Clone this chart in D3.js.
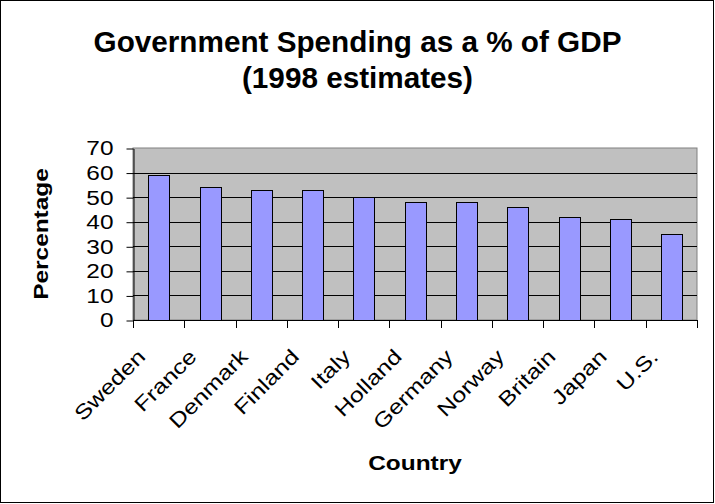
<!DOCTYPE html>
<html>
<head>
<meta charset="utf-8">
<script src="https://cdn.jsdelivr.net/npm/d3@7"></script>
<style>
  body { margin: 0; background: #fff; }
  text { font-family: "Liberation Sans", Arial, sans-serif; fill: #000; }
</style>
</head>
<body>
<svg id="chart"></svg>
<script>
// data
const countries = ["Sweden", "France", "Denmark", "Finland", "Italy", "Holland", "Germany", "Norway", "Britain", "Japan", "U.S."];
const spending = [59, 54, 53, 53, 50, 48, 48, 46, 42, 41, 35];
const yTicks = [0, 10, 20, 30, 40, 50, 60, 70];
const titleLines = ["Government Spending as a % of GDP", "(1998 estimates)"];

const width = 715, height = 504;
const plot = { left: 133, right: 697, top: 148, bottom: 320 };
const stretch = 1.22; // the source renders its labels wide

const svg = d3.select("#chart").attr("width", width).attr("height", height);

// outer frame
svg.append("rect")
    .attr("x", 0.5).attr("y", 0.5)
    .attr("width", width - 2).attr("height", height - 2)
    .attr("fill", "#fff").attr("stroke", "#000");

const x = d3.scaleBand()
    .domain(countries)
    .range([plot.left, plot.right])
    .paddingInner(0.6)
    .paddingOuter(0.3);
const xEdge = d3.scaleBand().domain(countries).range([plot.left, plot.right]);
const y = d3.scaleLinear().domain([0, 70]).range([plot.bottom, plot.top]);

function widen(sel, k) {
    sel.each(function() {
        const w = this.getComputedTextLength();
        d3.select(this).attr("textLength", w * k).attr("lengthAdjust", "spacingAndGlyphs");
    });
}

// plot area
svg.append("rect")
    .attr("x", plot.left).attr("y", plot.top)
    .attr("width", plot.right - plot.left).attr("height", plot.bottom - plot.top)
    .attr("fill", "#c0c0c0").attr("stroke", "#808080");

// gridlines
svg.append("g")
    .selectAll("line")
    .data(yTicks.filter(d => d > 0 && d < 70))
    .join("line")
        .attr("x1", plot.left).attr("x2", plot.right)
        .attr("y1", d => Math.round(y(d)) + 0.5).attr("y2", d => Math.round(y(d)) + 0.5)
        .attr("stroke", "#000");

// bars
svg.append("g")
    .selectAll("rect")
    .data(spending)
    .join("rect")
        .attr("x", (d, i) => Math.round(x(countries[i])) + 0.5)
        .attr("y", d => Math.round(y(d)) + 0.5)
        .attr("width", Math.round(x.bandwidth()))
        .attr("height", d => Math.round(y(0)) - Math.round(y(d)))
        .attr("fill", "#9999ff")
        .attr("stroke", "#000");

// y axis
const yAxis = svg.append("g")
    .attr("transform", "translate(" + (plot.left + 0.5) + ",0.5)")
    .call(d3.axisLeft(y).tickValues(yTicks).tickSize(7).tickSizeOuter(0).tickPadding(13));
yAxis.selectAll("path, line").attr("stroke", "#000");
yAxis.selectAll("text").attr("font-size", 20).attr("font-family", null).call(widen, stretch);

// x axis line and ticks at category edges
const xAxis = svg.append("g");
xAxis.append("line")
    .attr("x1", plot.left).attr("x2", plot.right)
    .attr("y1", plot.bottom + 0.5).attr("y2", plot.bottom + 0.5)
    .attr("stroke", "#000");
xAxis.selectAll("line.tick")
    .data(countries.map(c => xEdge(c)).concat([plot.right]))
    .join("line")
        .attr("class", "tick")
        .attr("x1", d => Math.round(d) + 0.5).attr("x2", d => Math.round(d) + 0.5)
        .attr("y1", plot.bottom).attr("y2", plot.bottom + 8)
        .attr("stroke", "#000");

// category labels, rotated
xAxis.selectAll("text")
    .data(countries)
    .join("text")
        .attr("transform", d => "translate(" + (x(d) + x.bandwidth() / 2 - 12) + "," + (plot.bottom + 38) + ") rotate(-45)")
        .attr("text-anchor", "end")
        .attr("font-size", 20.5)
        .text(d => d)
        .call(widen, stretch);

// title
svg.append("text")
    .attr("x", width / 2)
    .attr("y", 52)
    .attr("text-anchor", "middle")
    .attr("font-size", 29.7)
    .attr("font-weight", "bold")
    .selectAll("tspan")
    .data(titleLines)
    .join("tspan")
        .attr("x", width / 2)
        .attr("dy", (d, i) => i === 0 ? 0 : 36)
        .text(d => d);

// axis titles
svg.append("text")
    .attr("transform", "translate(48," + (plot.top + plot.bottom) / 2 + ") rotate(-90)")
    .attr("text-anchor", "middle")
    .attr("font-size", 20)
    .attr("font-weight", "bold")
    .text("Percentage")
    .call(widen, stretch);

svg.append("text")
    .attr("x", (plot.left + plot.right) / 2)
    .attr("y", 470)
    .attr("text-anchor", "middle")
    .attr("font-size", 20)
    .attr("font-weight", "bold")
    .text("Country")
    .call(widen, stretch);
</script>
</body>
</html>
